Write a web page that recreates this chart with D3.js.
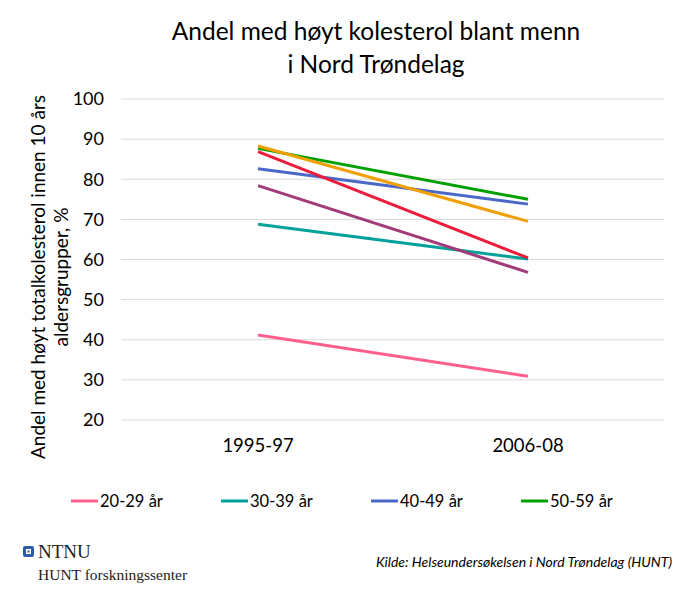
<!DOCTYPE html>
<html>
<head>
<meta charset="utf-8">
<script src="https://cdn.jsdelivr.net/npm/d3@7"></script>
<style>
  body { margin: 0; background: #fff; }
  text { font-family: Lato, "Open Sans", sans-serif; }
</style>
</head>
<body>
<div class="visHolder"></div>
<script>
const periods = ["1995-97", "2006-08"];
const groups = ["20-29 år", "30-39 år", "40-49 år", "50-59 år", "60-69 år", "70-79 år", "80+ år"];
const shown = ["20-29 år", "30-39 år", "40-49 år", "50-59 år"];
const vals2029 = [41.2, 30.9];
const vals3039 = [68.8, 60.1];
const vals4049 = [82.6, 73.8];
const vals5059 = [87.7, 75.0];
const vals6069 = [88.3, 69.5];
const vals7079 = [86.9, 60.4];
const vals80 = [78.4, 56.8];
const yTicks = [20, 30, 40, 50, 60, 70, 80, 90, 100];
const colors = ["#ff5f8c", "#00a19b", "#4a68c8", "#00a000", "#f0a000", "#ec1c3c", "#a23c78"];

const series = [vals2029, vals3039, vals4049, vals5059, vals6069, vals7079, vals80]
  .map((v, i) => ({ name: groups[i], color: colors[i], values: v }));

const w = 678, h = 596;
const svg = d3.select(".visHolder").append("svg")
  .attr("width", w).attr("height", h);

const x = d3.scaleBand().domain(periods).range([123, 663]);
const y = d3.scaleLinear().domain([20, 100]).range([420, 99]);

// gridlines
svg.append("g").selectAll("line").data(yTicks).enter().append("line")
  .attr("x1", 121).attr("x2", 664)
  .attr("y1", d => y(d)).attr("y2", d => y(d))
  .attr("stroke", "#d9d9d9").attr("stroke-width", 1);

const yAxis = svg.append("g").attr("transform", "translate(112,0)")
  .call(d3.axisLeft(y).tickValues(yTicks).tickSize(0).tickPadding(0));
yAxis.select(".domain").remove();
yAxis.selectAll("text").attr("font-size", 18).attr("fill", "#000")
  .style("font-family", "Lato, sans-serif").attr("dx", -8);

const xAxis = svg.append("g").attr("transform", "translate(0,428)")
  .call(d3.axisBottom(x).tickSize(0).tickPadding(11));
xAxis.select(".domain").remove();
xAxis.selectAll("text").attr("font-size", 18.5).attr("fill", "#000")
  .style("font-family", "Lato, sans-serif");

const line = d3.line()
  .x((d, i) => x(periods[i]) + x.bandwidth() / 2)
  .y(d => y(d));

svg.append("g").selectAll("path").data(series).enter().append("path")
  .attr("d", d => line(d.values))
  .attr("fill", "none")
  .attr("stroke", d => d.color)
  .attr("stroke-width", 3);

// title
svg.append("text").attr("x", 376).attr("y", 40).attr("text-anchor", "middle")
  .attr("font-size", 24.5).text("Andel med høyt kolesterol blant menn");
svg.append("text").attr("x", 376).attr("y", 73).attr("text-anchor", "middle")
  .attr("font-size", 24.5).text("i Nord Trøndelag");

// y axis title
const yt = svg.append("text").attr("transform", "translate(0,277) rotate(-90)")
  .attr("text-anchor", "middle").attr("font-size", 19);
yt.append("tspan").attr("x", 0).attr("y", 45).text("Andel med høyt totalkolesterol innen 10 års");
yt.append("tspan").attr("x", 0).attr("y", 68).text("aldersgrupper, %");

// legend
const leg = svg.append("g").selectAll("g").data(series.filter(s => shown.includes(s.name)))
  .enter().append("g")
  .attr("transform", (d, i) => "translate(" + (71 + i * 150) + ",501)");
leg.append("line").attr("x1", 0).attr("x2", 27).attr("y1", 0).attr("y2", 0)
  .attr("stroke", d => d.color).attr("stroke-width", 3);
leg.append("text").attr("x", 29).attr("y", 6).attr("font-size", 16.5).text(d => d.name);

// footer
const logo = svg.append("g").attr("transform", "translate(23,546)");
logo.append("rect").attr("width", 11).attr("height", 11).attr("rx", 2).attr("fill", "#2f5ca8");
logo.append("rect").attr("x", 3).attr("y", 3).attr("width", 5).attr("height", 5).attr("fill", "#fff");
logo.append("rect").attr("x", 4.5).attr("y", 4.5).attr("width", 2).attr("height", 2).attr("fill", "#2f5ca8");
svg.append("text").attr("x", 38).attr("y", 558).attr("font-size", 19)
  .style("font-family", "'Liberation Serif', serif").attr("fill", "#222").text("NTNU");
svg.append("text").attr("x", 38).attr("y", 580).attr("font-size", 15.5)
  .style("font-family", "'Liberation Serif', serif").attr("fill", "#222").text("HUNT forskningssenter");
svg.append("text").attr("x", 672).attr("y", 567).attr("text-anchor", "end")
  .attr("font-size", 14).attr("font-style", "italic")
  .text("Kilde: Helseundersøkelsen i Nord Trøndelag (HUNT)");
</script>
</body>
</html>
